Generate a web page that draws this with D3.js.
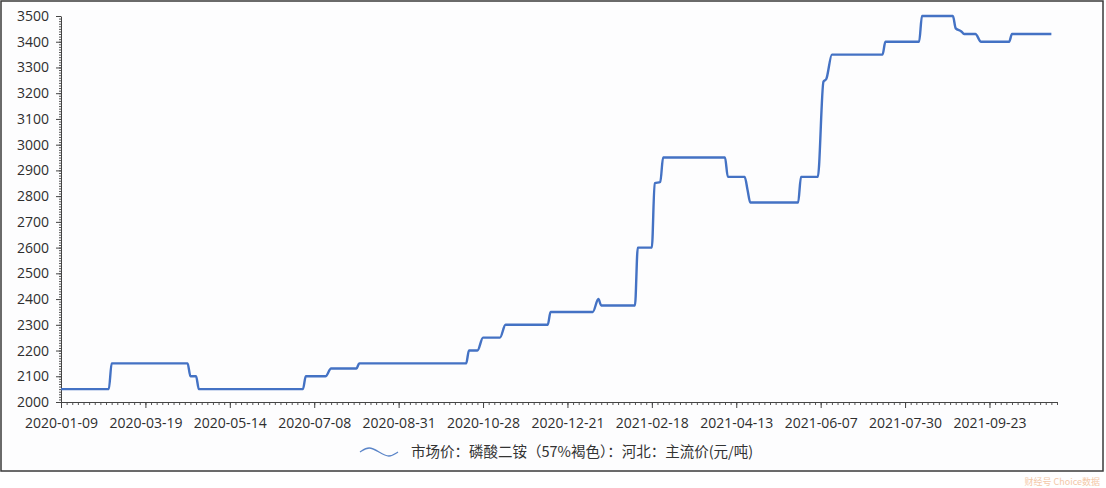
<!DOCTYPE html>
<html>
<head>
<meta charset="utf-8">
<script src="https://cdn.jsdelivr.net/npm/d3@7/dist/d3.min.js"></script>
<style>
  html, body { margin: 0; padding: 0; background: #ffffff; }
  svg { display: block; }
</style>
</head>
<body>
<svg id="chart" width="1106" height="488"></svg>
<script>
// ---- data (observation index along the category axis, price in 元/吨) ----
const tickLabels = ["2020-01-09","2020-03-19","2020-05-14","2020-07-08","2020-08-31","2020-10-28",
                    "2020-12-21","2021-02-18","2021-04-13","2021-06-07","2021-07-30","2021-09-23"];
const labelEvery = 30;          // observations between labelled ticks
const obsCount = 354;           // last index on the axis
const obsIndex = [0, 17, 18, 45, 46, 48, 49, 86, 87, 94, 96, 105, 106, 144, 145, 148, 150, 156, 158,
                  173, 174, 189, 191, 192, 204, 205, 210, 211, 213, 214, 236, 237, 243, 244, 245,
                  262, 263, 269, 271, 272, 274, 292, 293, 305, 306, 317, 318, 320, 321, 325, 327,
                  337, 338, 352];
const price    = [2050, 2050, 2150, 2150, 2100, 2100, 2050, 2050, 2100, 2100, 2130, 2130, 2150, 2150, 2200, 2200, 2250, 2250, 2300,
                  2300, 2350, 2350, 2400, 2375, 2375, 2600, 2600, 2850, 2855, 2950, 2950, 2875, 2875, 2825, 2775,
                  2775, 2875, 2875, 3245, 3255, 3350, 3350, 3400, 3400, 3500, 3500, 3452, 3440, 3430, 3430, 3400,
                  3400, 3430, 3430];
const yTicks = [2000,2100,2200,2300,2400,2500,2600,2700,2800,2900,3000,3100,3200,3300,3400,3500];
const legendLabel = "市场价：磷酸二铵（57%褐色）：河北：主流价(元/吨)";

// ---- layout ----
const svg = d3.select("#chart");
const plotL = 61, plotR = 1057, plotT = 16, plotB = 402;

svg.append("rect").attr("x", 1).attr("y", 1).attr("width", 1102).attr("height", 470)
   .attr("fill", "#fdfdfe").attr("stroke", "#3a3a3a").attr("stroke-width", 1.5);

const x = d3.scaleLinear().domain([0, obsCount]).range([plotL, plotR]);
const y = d3.scaleLinear().domain([2000, 3500]).range([plotB, plotT]);

const axisFont = "'Open Sans', 'Noto Sans', sans-serif";

// minor y ticks
const yMinor = d3.range(2000, 3501, 10);
svg.append("g").attr("transform", `translate(${plotL},0)`)
   .call(d3.axisLeft(y).tickValues(yMinor).tickSize(2).tickFormat(""))
   .call(g => g.select(".domain").remove())
   .call(g => g.selectAll("line").attr("stroke", "#555"));

// major y axis
svg.append("g").attr("transform", `translate(${plotL},0)`)
   .call(d3.axisLeft(y).tickValues(yTicks).tickSize(5).tickSizeOuter(0).tickPadding(7).tickFormat(d3.format("d")))
   .call(g => g.select(".domain").attr("stroke", "#444"))
   .call(g => g.selectAll("line").attr("stroke", "#444"))
   .call(g => g.selectAll("text").attr("fill", "#2e2e2e").style("font-family", axisFont).style("font-size", "14px"));

// minor x ticks
const xMinor = d3.range(0, obsCount + 1, 2);
svg.append("g").attr("transform", `translate(0,${plotB})`)
   .call(d3.axisBottom(x).tickValues(xMinor).tickSize(3).tickFormat(""))
   .call(g => g.select(".domain").remove())
   .call(g => g.selectAll("line").attr("stroke", "#555"));

// major x axis
const xMajor = tickLabels.map((d, i) => i * labelEvery);
svg.append("g").attr("transform", `translate(0,${plotB})`)
   .call(d3.axisBottom(x).tickValues(xMajor).tickSize(6).tickSizeOuter(0).tickPadding(10)
          .tickFormat((d, i) => tickLabels[i]))
   .call(g => g.select(".domain").attr("stroke", "#444"))
   .call(g => g.selectAll("line").attr("stroke", "#444"))
   .call(g => g.selectAll("text").attr("fill", "#2e2e2e").style("font-family", axisFont).style("font-size", "14px"));

// line
const pts = obsIndex.map((d, i) => [d, price[i]]);
const line = d3.line().x(d => x(d[0])).y(d => y(d[1])).curve(d3.curveMonotoneX);
svg.append("path").datum(pts).attr("d", line)
   .attr("fill", "none").attr("stroke", "#4472c4").attr("stroke-width", 2.4)
   .attr("stroke-linejoin", "round");

// legend
const lg = svg.append("g").attr("transform", "translate(360,452)");
lg.append("path")
  .attr("d", d3.line().curve(d3.curveBasis)([[0,0],[9,-6],[19,0],[29,6],[38,0]]))
  .attr("fill", "none").attr("stroke", "#5b85c8").attr("stroke-width", 1.3);
lg.append("text").attr("x", 51).attr("y", 5).text(legendLabel)
  .attr("fill", "#333").style("font-family", "'Noto Sans CJK SC', sans-serif").style("font-size", "14.5px");

// watermark
svg.append("text").attr("x", 1100).attr("y", 485).attr("text-anchor", "end")
   .text("财经号 Choice数据").attr("fill", "#f3c8a8").style("font-family", "'Noto Sans CJK SC', sans-serif")
   .style("font-size", "9px");
</script>
</body>
</html>
